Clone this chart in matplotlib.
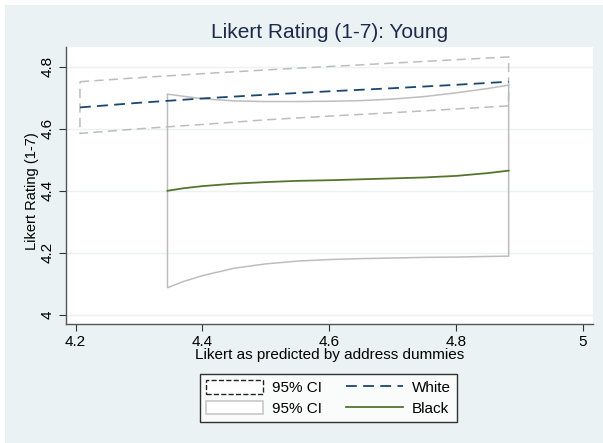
import matplotlib
matplotlib.use("Agg")
import matplotlib.pyplot as plt
from matplotlib.patches import Patch, Rectangle
from matplotlib.lines import Line2D

plt.rcParams['font.family'] = ['Liberation Sans', 'DejaVu Sans']

# Predicted Likert ratings (young applicants) by race
white_x = [4.207, 4.30, 4.40, 4.50, 4.60, 4.70, 4.80, 4.883]
white_fit = [4.669, 4.684, 4.698, 4.710, 4.721, 4.731, 4.742, 4.752]
white_hi = [4.752, 4.765, 4.778, 4.790, 4.801, 4.812, 4.823, 4.832]
white_lo = [4.585, 4.600, 4.614, 4.629, 4.641, 4.652, 4.664, 4.674]

black_x = [4.345, 4.37, 4.40, 4.45, 4.50, 4.55, 4.60, 4.65, 4.70, 4.75, 4.80, 4.85, 4.883]
black_fit = [4.400, 4.408, 4.415, 4.423, 4.428, 4.432, 4.434, 4.437, 4.440, 4.443, 4.448, 4.457, 4.465]
black_hi = [4.712, 4.705, 4.697, 4.690, 4.688, 4.688, 4.689, 4.691, 4.696, 4.704, 4.716, 4.730, 4.741]
black_lo = [4.087, 4.107, 4.126, 4.150, 4.164, 4.173, 4.178, 4.181, 4.183, 4.185, 4.186, 4.188, 4.189]

x_ticks = [4.2, 4.4, 4.6, 4.8, 5]
x_ticklabels = ["4.2", "4.4", "4.6", "4.8", "5"]
y_ticks = [4, 4.2, 4.4, 4.6, 4.8]
y_ticklabels = ["4", "4.2", "4.4", "4.6", "4.8"]

BG = "#eaf2f3"
NAVY = "#1a476f"
GREEN = "#55752f"
CI_GRAY = "#bdbdbd"
TEXT = "#1e2a4a"

fig = plt.figure(figsize=(6.03, 4.43), dpi=100)
fig.patch.set_facecolor("white")
# graph region background (thin white margin at top and left)
fig.patches.append(Rectangle((5 / 603, 0), 1 - 5 / 603, 1 - 5 / 443,
                             transform=fig.transFigure, facecolor=BG,
                             edgecolor="none", zorder=-10))

ax = fig.add_axes([66 / 603, (443 - 324) / 443, (593 - 66) / 603, (324 - 46.7) / 443])
ax.set_facecolor("white")
ax.set_xlim(4.185, 5.016)
ax.set_ylim(3.970, 4.865)

# horizontal grid lines
for yv in y_ticks:
    ax.axhline(yv, color=BG, lw=1.0, zorder=0)

# confidence band outlines
wx = white_x + white_x[::-1]
wy = white_hi + white_lo[::-1]
ax.fill(wx, wy, facecolor="none", edgecolor=CI_GRAY, lw=1.1,
        linestyle=(0, (6, 3.5)), zorder=2)
bx = black_x + black_x[::-1]
by = black_hi + black_lo[::-1]
ax.fill(bx, by, facecolor="none", edgecolor=CI_GRAY, lw=1.1, zorder=2)

# fitted lines
ax.plot(white_x, white_fit, color=NAVY, lw=1.3, linestyle=(0, (6, 3.5)), zorder=3)
ax.plot(black_x, black_fit, color=GREEN, lw=1.3, zorder=3)

ax.set_xticks(x_ticks)
ax.set_xticklabels(x_ticklabels)
ax.set_yticks(y_ticks)
ax.set_yticklabels(y_ticklabels, rotation=90, va="center")
ax.tick_params(axis="both", direction="out", length=5, width=0.8,
               color="#333333", labelsize=11, labelcolor="black", pad=3)
for side in ("top", "right"):
    ax.spines[side].set_visible(False)
for side in ("left", "bottom"):
    ax.spines[side].set_color("#555555")
    ax.spines[side].set_linewidth(1.0)

ax.set_xlabel("Likert as predicted by address dummies", fontsize=11, va="center")
ax.xaxis.set_label_coords(0.5, (324 - 355) / 277.3)
ax.set_ylabel("Likert Rating (1-7)", fontsize=10.5, va="center")
ax.yaxis.set_label_coords((32 - 66) / 527, (324 - 191) / 277.3)
fig.text(329.5 / 603, 1 - 33 / 443, "Likert Rating (1-7): Young",
         fontsize=15, color=TEXT, ha="center", va="center")

handles = [
    Patch(facecolor="white", edgecolor="#222222", linestyle="--", lw=1.0),
    Patch(facecolor="white", edgecolor="#c8c8c8", lw=1.2),
    Line2D([], [], color=NAVY, lw=1.3, linestyle=(0, (6, 3.5))),
    Line2D([], [], color=GREEN, lw=1.3),
]
labels = ["95% CI", "95% CI", "White", "Black"]
leg = fig.legend(handles, labels, ncol=2, loc="center",
                 bbox_to_anchor=(328.5 / 603, 1 - 398 / 443),
                 fontsize=11, frameon=True, fancybox=False,
                 handlelength=3.7, handleheight=1.0, handletextpad=0.6,
                 columnspacing=1.6, labelspacing=0.35, borderpad=0.4)
leg.get_frame().set_edgecolor("black")
leg.get_frame().set_linewidth(1.0)
leg.get_frame().set_facecolor("white")

fig.savefig("out.png", dpi=100, facecolor=fig.get_facecolor())
